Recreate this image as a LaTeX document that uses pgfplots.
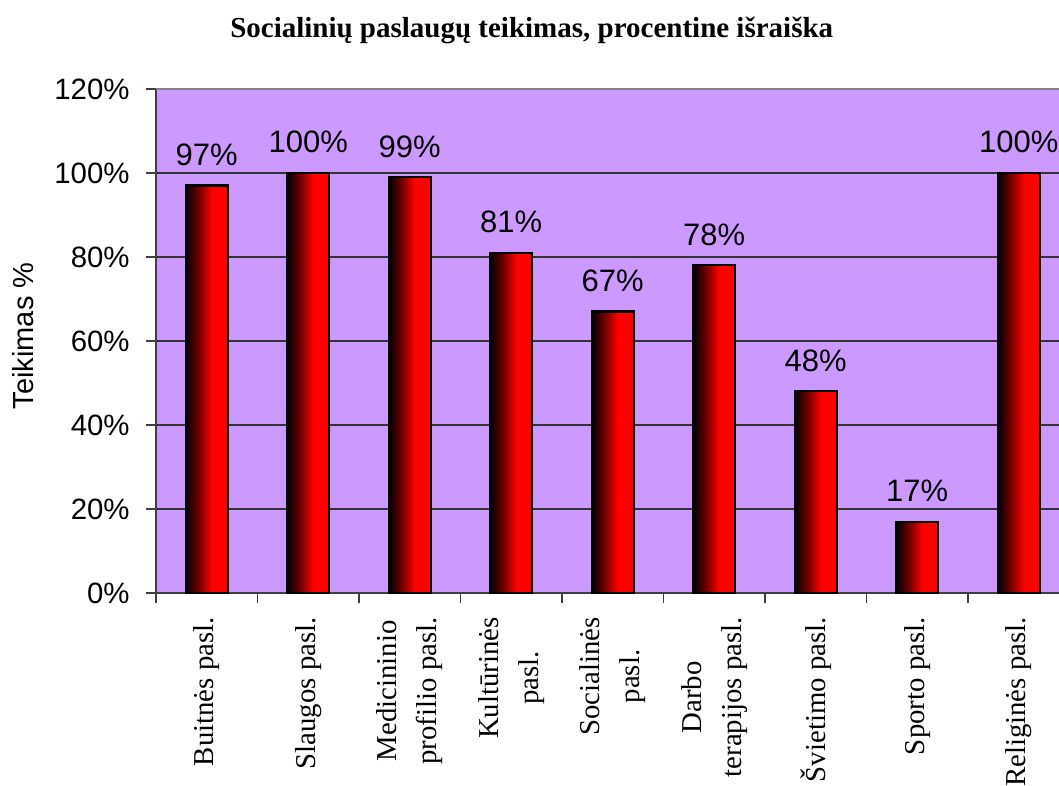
\documentclass[border=0pt]{standalone}
\usepackage{fontspec}
\setmainfont{Liberation Serif}
\setsansfont{Liberation Sans}
\usepackage{pgfplots}
\pgfplotsset{compat=1.18}
\definecolor{bgpurple}{RGB}{204,153,255}
\pgfdeclarehorizontalshading{barshade}{100bp}{color(0bp)=(black); color(25bp)=(black); color(42bp)=(red!50!black); color(56bp)=(red); color(100bp)=(red)}
\pgfplotsset{mybar/.style={ybar, bar width=21pt, bar shift=0pt, draw=black, line width=1.1pt, shade, shading=barshade}}
\begin{document}
\begin{tikzpicture}
\begin{scope}
\clip (-78pt,-96.5pt) rectangle (451.5pt,296.5pt);
\begin{axis}[
  scale only axis, width=456.75pt, height=252pt,
  xmin=-0.5, xmax=8.5, ymin=0, ymax=120,
  axis x line*=bottom, axis y line*=left,
  axis line style={-, black!75, line width=0.9pt},
  axis background/.style={fill=bgpurple},
  ymajorgrids, grid style={black!80, line width=0.6pt},
  tick align=outside,
  ytick={0,20,...,120},
  yticklabels={0\%,20\%,40\%,60\%,80\%,100\%,120\%},
  yticklabel style={font=\sffamily\fontsize{14.7}{17}\selectfont, anchor=east, inner sep=0pt, xshift=-8pt},
  major tick length=5pt, minor tick length=5pt,
  every tick/.style={black!75, line width=0.8pt},
  xtick={0,...,8},
  major x tick style={draw=none},
  minor xtick={-0.5,0.5,...,8.5},
  xticklabels={Buitnės pasl., Slaugos pasl., {Medicininio\\profilio pasl.}, {Kultūrinės\\pasl.}, {Socialinės\\pasl.}, {Darbo\\terapijos pasl.}, Švietimo pasl., Sporto pasl., Religinės pasl.},
  xticklabel style={rotate=90, anchor=east, align=center, font=\rmfamily\fontsize{14.4}{20}\selectfont, inner sep=0pt, xshift=-7pt},
  title={Socialinių paslaugų teikimas, procentine išraiška},
  title style={at={(axis description cs:0.4113,1)}, anchor=base, yshift=19.5pt, font=\rmfamily\bfseries\fontsize{14.5}{17}\selectfont},
  ylabel={Teikimas \%},
  ylabel style={at={(axis description cs:-0.1456,0.51)}, anchor=center, rotate=0, font=\sffamily\fontsize{14.5}{17}\selectfont},
  /pgf/number format/assume math mode=true,
  nodes near coords={\pgfmathprintnumber{\pgfplotspointmeta}\%},
  every node near coord/.append style={font=\sffamily\fontsize{15.5}{18}\selectfont, anchor=base, inner sep=0pt, yshift=10pt},
  clip=false,
]
\addplot[mybar] coordinates {(0,97)};
\addplot[mybar] coordinates {(1,100)};
\addplot[mybar] coordinates {(2,99)};
\addplot[mybar] coordinates {(3,81)};
\addplot[mybar] coordinates {(4,67)};
\addplot[mybar] coordinates {(5,78)};
\addplot[mybar] coordinates {(6,48)};
\addplot[mybar] coordinates {(7,17)};
\addplot[mybar] coordinates {(8,100)};
\draw[gray, line width=1.3pt] (rel axis cs:0,1) -- (rel axis cs:1,1);
\end{axis}
\end{scope}
\pgfresetboundingbox
\useasboundingbox (-78pt,-96.5pt) rectangle (451.5pt,296.5pt);
\end{tikzpicture}
\end{document}
